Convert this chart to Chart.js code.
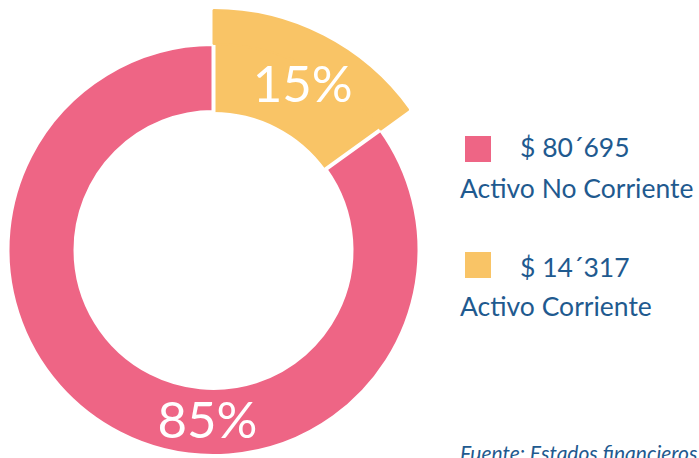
<!DOCTYPE html>
<html>
<head>
<meta charset="utf-8">
<script src="https://cdn.jsdelivr.net/npm/chart.js@4.4.1/dist/chart.umd.min.js"></script>
<style>
  html, body { margin:0; padding:0; background:#fff; width:699px; height:458px; overflow:hidden; }
  #wrap { position:absolute; left:0; top:0; width:427px; height:500px; }
  .leg { position:absolute; font-family: Lato, "Open Sans", sans-serif; color:#1f5a8f; font-size:26.5px; white-space:nowrap; line-height:1; }
  .sq { position:absolute; width:26px; height:26px; }
  #foot { position:absolute; left:460px; top:442px; font-family: Lato, sans-serif; font-style:italic; font-size:21px; color:#1f5a8f; white-space:nowrap; line-height:1; }
</style>
</head>
<body>
<div id="wrap"><canvas id="c" width="427" height="500"></canvas></div>
<div class="sq" id="sq0" style="left:465px; top:136px;"></div>
<div class="leg" style="left:520px; top:134px;" id="v0"></div>
<div class="leg" style="left:460px; top:175px;" id="l0"></div>
<div class="sq" id="sq1" style="left:465px; top:252px;"></div>
<div class="leg" style="left:520px; top:254px;" id="v1"></div>
<div class="leg" style="left:460px; top:293px;" id="l1"></div>
<div id="foot">Fuente: Estados financieros</div>
<script>
const categories = ["Activo Corriente", "Activo No Corriente"];
const values = [14317, 80695];
const valueLabels = ["$ 14´317", "$ 80´695"];
const percentLabels = ["15%", "85%"];
const colors = ["#f9c466", "#ee6585"];

document.getElementById('sq0').style.background = colors[1];
document.getElementById('v0').textContent = valueLabels[1];
document.getElementById('l0').textContent = categories[1];
document.getElementById('sq1').style.background = colors[0];
document.getElementById('v1').textContent = valueLabels[0];
document.getElementById('l1').textContent = categories[0];

const labelPlugin = {
  id: 'pctLabels',
  afterDatasetsDraw(chart) {
    const meta = chart.getDatasetMeta(1);
    const ctx = chart.ctx;
    const outer0 = chart.getDatasetMeta(0).data[0];
    ctx.save();
    ctx.fillStyle = '#ffffff';
    ctx.font = '400 51px Lato, "Open Sans", sans-serif';
    ctx.textAlign = 'center';
    ctx.textBaseline = 'middle';
    const y = meta.data[0];
    const midY = (y.startAngle + y.endAngle) / 2;
    const rY = (y.innerRadius + outer0.outerRadius) / 2;
    ctx.fillText(percentLabels[0], y.x + Math.cos(midY) * rY + 3, y.y + Math.sin(midY) * rY + 4);
    const p = meta.data[1];
    const aP = Math.PI / 2 + 0.035;
    const rP = (p.innerRadius + p.outerRadius) / 2;
    ctx.fillText(percentLabels[1], p.x + Math.cos(aP) * rP, p.y + Math.sin(aP) * rP);
    ctx.restore();
  }
};

new Chart(document.getElementById('c'), {
  type: 'doughnut',
  data: {
    labels: categories,
    datasets: [
      {
        data: values,
        backgroundColor: [colors[0], 'rgba(0,0,0,0)'],
        borderColor: [colors[0], 'rgba(0,0,0,0)'],
        borderWidth: [2, 0],
        hoverBorderWidth: [2, 0],
        weight: 1
      },
      {
        data: values,
        backgroundColor: colors,
        borderColor: [colors[0], '#ffffff'],
        borderWidth: [0, 4],
        hoverBorderWidth: [0, 4],
        weight: 2
      }
    ]
  },
  options: {
    responsive: false,
    animation: false,
    events: [],
    radius: 240,
    cutout: '57.5%',
    spacing: 0,
    layout: { padding: 0 },
    plugins: { legend: { display: false }, tooltip: { enabled: false } }
  },
  plugins: [labelPlugin]
});
</script>
</body>
</html>
